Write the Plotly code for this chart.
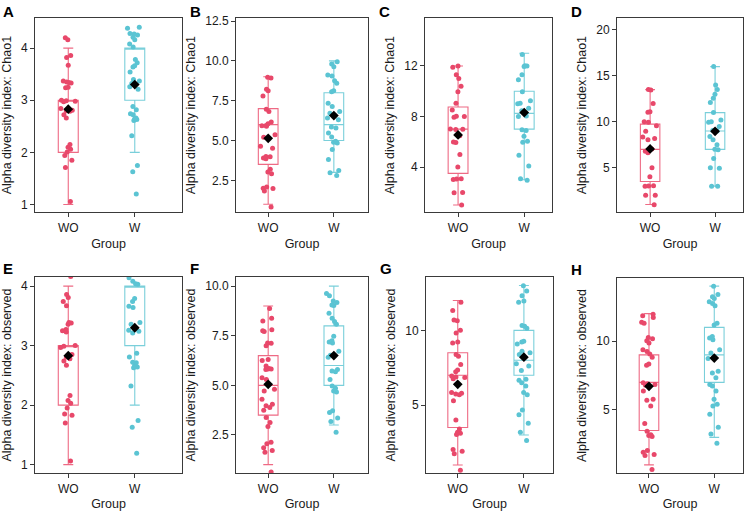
import plotly.graph_objects as go

groups = ['WO', 'W']

# A: Chao1
a_wo = [4.20, 4.16, 3.86, 3.82, 3.67, 3.37, 3.35, 3.34, 3.33, 3.25, 3.24, 3.00, 2.99, 2.98, 2.97,
        2.84, 2.81, 2.80, 2.79, 2.72, 2.66, 2.15, 2.10, 2.06, 2.01, 1.94, 1.85, 1.71, 1.06]
a_w = [4.40, 4.38, 4.28, 4.27, 4.25, 4.21, 4.16, 4.08, 4.02, 3.78, 3.72, 3.66, 3.64, 3.54, 3.40, 3.37,
       3.32, 3.26, 3.21, 2.88, 2.82, 2.74, 2.72, 2.66, 2.64, 2.63, 2.61, 2.32, 1.75, 1.63, 1.20]
a_q1, a_med, a_q3, a_lo, a_hi = [2, 3], [3, 4], [3, 4], [1, 2], [4, 4]
a_mean = [2.83, 3.30]

# B: Chao1
b_wo = [8.97, 8.92, 8.22, 8.13, 7.80, 6.97, 6.82, 6.16, 6.05, 5.95, 5.92, 5.90, 5.37, 5.20, 4.64, 4.52,
        4.00, 3.98, 3.91, 3.85, 3.19, 3.02, 2.92, 2.08, 2.00, 1.98, 1.83, 0.82]
b_w = [9.94, 9.80, 9.63, 9.11, 9.05, 8.76, 8.59, 8.13, 8.07, 7.34, 7.14, 6.82, 6.72, 6.41, 6.30, 5.85,
       5.78, 5.47, 5.22, 4.95, 4.89, 4.85, 4.43, 3.81, 3.12, 2.98, 2.81]
b_q1, b_med, b_q3, b_lo, b_hi = [3.5, 5], [6, 6], [7, 8], [1, 3], [9, 10]
b_mean = [5.14, 6.57]

# C: Chao1
c_wo = [12.0, 11.9, 11.3, 11.0, 10.4, 9.96, 9.05, 8.52, 8.02, 8.0, 7.95, 7.02, 7.0, 6.97, 6.48, 5.98,
        5.94, 5.0, 4.0, 3.08, 3.05, 3.02, 2.0, 1.97, 1.0]
c_w = [12.9, 12.02, 12.0, 11.95, 11.3, 10.9, 9.96, 9.25, 9.05, 9.0, 8.65, 8.45, 8.05, 8.0, 6.95, 6.9,
       6.43, 6.04, 5.96, 4.94, 4.08, 3.08, 2.95]
c_q1, c_med, c_q3, c_lo, c_hi = [3.5, 7], [7, 8.25], [8.75, 10], [1, 3], [12, 13]
c_mean = [6.54, 8.31]

# D: Chao1
d_wo = [13.5, 13.45, 12.0, 11.1, 11.05, 10.0, 9.95, 9.57, 8.96, 8.35, 8.17, 8.06, 7.05, 6.8, 6.62, 5.0,
        4.03, 3.05, 3.02, 3.0, 2.02, 2.0, 0.97]
d_w = [16.0, 14.0, 13.5, 13.0, 12.55, 12.1, 11.0, 10.2, 10.0, 9.95, 9.5, 9.0, 9.05, 8.4, 8.05, 7.5,
       7.0, 6.95, 6.0, 5.0, 4.95, 3.0, 2.98]
d_q1, d_med, d_q3, d_lo, d_hi = [3.5, 7], [7, 9], [9.75, 11], [1, 3], [13.5, 16]
d_mean = [7.05, 8.96]

# E: observed
e_wo = [4.20, 4.16, 3.86, 3.81, 3.74, 3.67, 3.39, 3.38, 3.36, 3.27, 3.25, 3.23, 3.00, 2.99, 2.97, 2.85,
        2.81, 2.78, 2.74, 2.67, 2.16, 2.08, 2.03, 1.95, 1.85, 1.83, 1.70, 1.06]
e_w = [4.40, 4.28, 4.25, 4.14, 4.08, 4.04, 4.03, 3.79, 3.74, 3.66, 3.64, 3.39, 3.36, 3.26, 3.24, 3.21,
       2.87, 2.81, 2.72, 2.71, 2.66, 2.64, 2.63, 2.32, 1.74, 1.63, 1.19]
e_q1, e_med, e_q3, e_lo, e_hi = [2, 3], [3, 4], [3, 4], [1, 2], [4, 4]
e_mean = [2.83, 3.30]

# F: observed
f_wo = [8.88, 8.38, 8.25, 7.80, 7.75, 7.72, 7.13, 7.12, 7.0, 6.30, 6.25, 5.97, 5.85, 5.83, 5.82, 5.80,
        5.38, 5.30, 4.80, 4.72, 4.30, 4.05, 3.97, 3.88, 3.75, 3.38, 3.13, 2.92, 2.13, 2.05, 1.85, 1.72,
        1.63, 0.63]
f_w = [9.63, 9.52, 9.25, 9.18, 9.05, 9.02, 8.63, 8.38, 8.22, 8.08, 7.47, 7.25, 7.18, 7.13, 6.72, 6.52,
       6.42, 5.80, 5.72, 5.68, 5.30, 4.97, 4.85, 4.72, 4.67, 3.72, 3.63, 3.35, 3.18, 2.63]
f_q1, f_med, f_q3, f_lo, f_hi = [3.5, 5], [5, 6], [6.5, 8], [1, 3], [9, 10]
f_mean = [5.05, 6.5]

# G: observed
g_wo = [11.88, 11.33, 10.70, 10.64, 10.0, 9.82, 9.23, 9.16, 8.38, 8.27, 7.72, 7.35, 7.23, 6.95, 6.88,
        6.84, 6.77, 5.84, 5.80, 5.75, 5.69, 5.29, 4.0, 3.41, 3.19, 3.12, 3.03, 2.04, 1.92, 1.75, 0.64]
g_w = [12.99, 12.63, 12.32, 11.97, 11.88, 10.33, 10.27, 10.15, 9.27, 9.23, 9.09, 8.60, 8.50, 8.38, 7.77,
       7.61, 7.32, 6.73, 6.66, 6.50, 6.28, 5.84, 5.69, 4.67, 4.36, 3.78, 3.19, 2.63]
g_q1, g_med, g_q3, g_lo, g_hi = [3.5, 7], [7, 8], [8.5, 10], [1, 3], [12, 13]
g_mean = [6.39, 8.21]

# H: observed
h_wo = [11.95, 11.85, 11.71, 11.37, 11.30, 10.26, 10.17, 10.02, 9.86, 9.38, 9.25, 9.06, 8.82, 8.34, 8.25,
        6.97, 6.90, 6.85, 6.80, 6.37, 5.77, 5.70, 5.29, 4.01, 3.44, 3.20, 3.13, 3.06, 2.04, 1.92, 1.75,
        1.68, 0.67]
h_w = [13.99, 13.39, 13.22, 13.10, 12.86, 12.74, 12.57, 11.30, 11.18, 10.34, 10.22, 10.10, 9.38, 9.13,
       8.73, 7.81, 7.69, 7.33, 6.85, 6.73, 6.37, 5.77, 5.41, 5.29, 4.69, 3.73, 3.25, 2.57]
h_q1, h_med, h_q3, h_lo, h_hi = [3.5, 7], [7, 9], [9, 11], [1, 3], [12, 14]
h_mean = [6.71, 8.77]

ytitle_chao = 'Alpha diversity index: Chao1'
ytitle_obs = 'Alpha diversity index: observed'

panels = [
    dict(lab='A', pts=[a_wo, a_w], q1=a_q1, med=a_med, q3=a_q3, lo=a_lo, hi=a_hi, mean=a_mean,
         yt=ytitle_chao, yr=[0.85, 4.58], tv=[1, 2, 3, 4], fmt='d', xr=[-0.5, 1.71], px=(35, 182, 14, 210)),
    dict(lab='B', pts=[b_wo, b_w], q1=b_q1, med=b_med, q3=b_q3, lo=b_lo, hi=b_hi, mean=b_mean,
         yt=ytitle_chao, yr=[0.49, 12.7], tv=[2.5, 5, 7.5, 10, 12.5], fmt='.1f', xr=[-0.49, 1.52], px=(236, 368, 14, 210)),
    dict(lab='C', pts=[c_wo, c_w], q1=c_q1, med=c_med, q3=c_q3, lo=c_lo, hi=c_hi, mean=c_mean,
         yt=ytitle_chao, yr=[0.42, 15.8], tv=[4, 8, 12], fmt='d', xr=[-0.5, 1.42], px=(425, 552, 14, 210)),
    dict(lab='D', pts=[d_wo, d_w], q1=d_q1, med=d_med, q3=d_q3, lo=d_lo, hi=d_hi, mean=d_mean,
         yt=ytitle_chao, yr=[0.15, 21.3], tv=[5, 10, 15, 20], fmt='d', xr=[-0.51, 1.43], px=(617, 743, 14, 210)),
    dict(lab='E', pts=[e_wo, e_w], q1=e_q1, med=e_med, q3=e_q3, lo=e_lo, hi=e_hi, mean=e_mean,
         yt=ytitle_obs, yr=[0.855, 4.155], tv=[1, 2, 3, 4], fmt='d', xr=[-0.5, 1.71], px=(35, 182, 275, 473)),
    dict(lab='F', pts=[f_wo, f_w], q1=f_q1, med=f_med, q3=f_q3, lo=f_lo, hi=f_hi, mean=f_mean,
         yt=ytitle_obs, yr=[0.565, 10.47], tv=[2.5, 5, 7.5, 10], fmt='.1f', xr=[-0.49, 1.52], px=(236, 368, 275, 473)),
    dict(lab='G', pts=[g_wo, g_w], q1=g_q1, med=g_med, q3=g_q3, lo=g_lo, hi=g_hi, mean=g_mean,
         yt=ytitle_obs, yr=[0.44, 13.58], tv=[5, 10], fmt='d', xr=[-0.48, 1.44], px=(426, 553, 275, 473)),
    dict(lab='H', pts=[h_wo, h_w], q1=h_q1, med=h_med, q3=h_q3, lo=h_lo, hi=h_hi, mean=h_mean,
         yt=ytitle_obs, yr=[0.39, 14.6], tv=[5, 10], fmt='d', xr=[-0.49, 1.44], px=(617, 743, 276, 473)),
]

W, H = 750, 511
pt_col = ['#E8486A', '#5BC4D3']
box_col = ['#EE6A84', '#7ACFDA']
font = 'Liberation Sans, Arial, sans-serif'

fig = go.Figure()
annotations = []

for i, p in enumerate(panels):
    n = '' if i == 0 else str(i + 1)
    xa, ya = 'x' + n, 'y' + n
    for j, g in enumerate(groups):
        # box from the summary statistics
        fig.add_trace(go.Box(
            x=[g], q1=[p['q1'][j]], median=[p['med'][j]], q3=[p['q3'][j]],
            lowerfence=[p['lo'][j]], upperfence=[p['hi'][j]],
            width=0.3, whiskerwidth=0.5, boxpoints=False,
            line=dict(color=box_col[j], width=1.1), fillcolor='rgba(0,0,0,0)',
            xaxis=xa, yaxis=ya, showlegend=False, hoverinfo='skip'))
        # jittered samples
        fig.add_trace(go.Box(
            x=[g] * len(p['pts'][j]), y=p['pts'][j],
            boxpoints='all', jitter=0.8, pointpos=0, width=0.3,
            line=dict(width=0), fillcolor='rgba(0,0,0,0)',
            marker=dict(color=pt_col[j], size=5),
            xaxis=xa, yaxis=ya, showlegend=False))
    fig.add_trace(go.Scatter(
        x=groups, y=p['mean'], mode='markers',
        marker=dict(symbol='diamond', color='black', size=7.5),
        xaxis=xa, yaxis=ya, showlegend=False))

    x0, x1, y0, y1 = p['px']
    axis_common = dict(showline=True, mirror=True, linecolor='#3a3a3a', linewidth=1,
                       ticks='outside', ticklen=4, tickcolor='#3a3a3a', showgrid=False,
                       zeroline=False, tickfont=dict(size=12, color='#1a1a1a', family=font))
    fig.layout['xaxis' + n] = dict(
        axis_common, domain=[x0 / W, x1 / W], anchor=ya, type='category',
        categoryorder='array', categoryarray=groups, range=p['xr'],
        title=dict(text='Group', font=dict(size=12.5, color='#1a1a1a', family=font), standoff=5))
    fig.layout['yaxis' + n] = dict(
        axis_common, domain=[1 - y1 / H, 1 - y0 / H], anchor=xa, range=p['yr'],
        tickvals=p['tv'], tickformat=p['fmt'],
        title=dict(text=p['yt'], font=dict(size=12.5, color='#1a1a1a', family=font), standoff=6))
    lab_y = y0 - 6 if y0 < 100 else y0 - 8
    annotations.append(dict(text='<b>%s</b>' % p['lab'], x=(x0 - 34 if x0 < 100 else x0 - 48) / W,
                            y=1 - lab_y / H, xref='paper', yref='paper', xanchor='left', yanchor='middle',
                            showarrow=False, font=dict(size=15, color='black', family=font)))

fig.update_layout(width=W, height=H, margin=dict(l=0, r=0, t=0, b=0),
                  paper_bgcolor='white', plot_bgcolor='white', boxmode='overlay',
                  annotations=annotations, font=dict(family=font))

# page body has a default 8px margin; drop it so the figure fills the window
fig.write_html('out.html', config={'displayModeBar': False},
               post_script="document.body.style.margin='0';")
